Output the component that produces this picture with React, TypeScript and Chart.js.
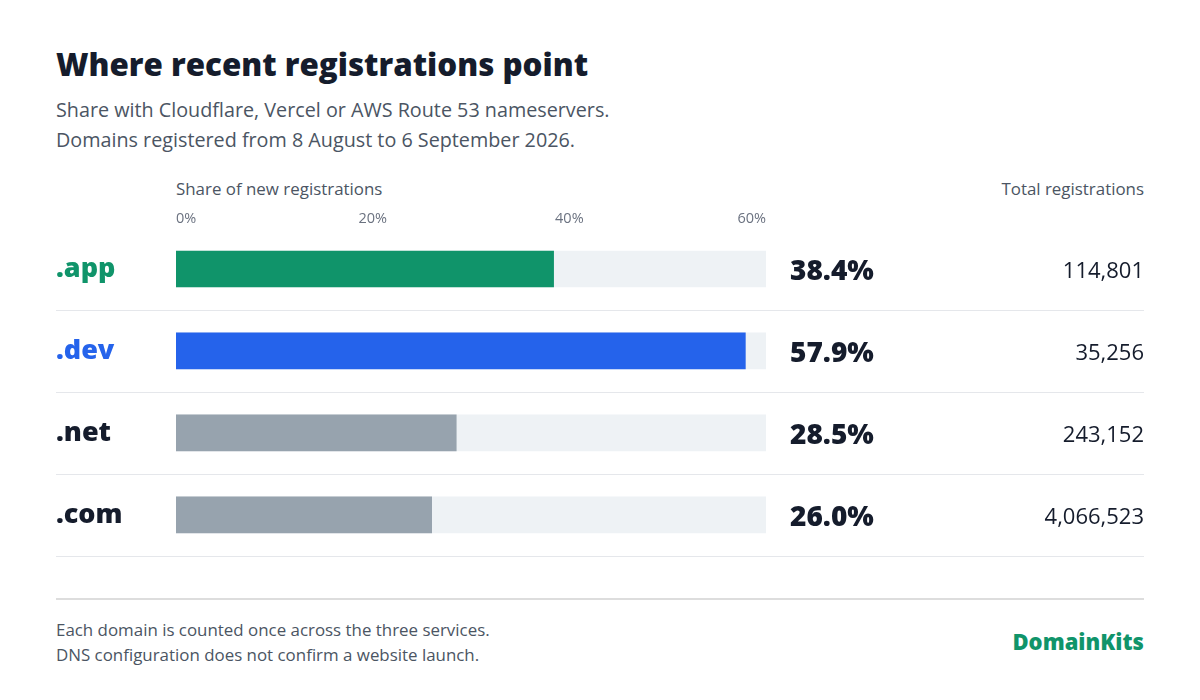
import React, { useEffect, useRef } from "react";
import { Chart, registerables } from "chart.js";

Chart.register(...registerables);

const tlds = [".app", ".dev", ".net", ".com"];
const shares = [38.4, 57.9, 28.5, 26.0];
const totals = [114801, 35256, 243152, 4066523];
const axisMax = 60;
const tickStep = 20;

const barColors = ["#10946a", "#2563eb", "#97a3ae", "#97a3ae"];
const labelColors = ["#10946a", "#2563eb", "#151c2c", "#151c2c"];
const trackColor = "#eef2f5";
const inkColor = "#151c2c";
const FONT = "'Open Sans', 'Noto Sans', sans-serif";

// separators between rows, then the share and total columns to the right
const rowExtras = {
  id: "rowExtras",
  beforeDatasetsDraw(chart: Chart) {
    const { ctx, scales, width } = chart;
    const y = scales.y;
    const half = (y.getPixelForValue(1) - y.getPixelForValue(0)) / 2;
    ctx.save();
    ctx.strokeStyle = "#e5e7eb";
    ctx.lineWidth = 1;
    for (let i = 0; i < tlds.length; i++) {
      const yy = Math.round(y.getPixelForValue(i) + half) + 0.5;
      ctx.beginPath();
      ctx.moveTo(0, yy);
      ctx.lineTo(width, yy);
      ctx.stroke();
    }
    ctx.restore();
  },
  afterDatasetsDraw(chart: Chart) {
    const { ctx, scales, chartArea, width } = chart;
    const y = scales.y;
    ctx.save();
    ctx.textBaseline = "middle";
    shares.forEach((v, i) => {
      const yy = y.getPixelForValue(i);
      ctx.fillStyle = inkColor;
      ctx.font = `800 28px ${FONT}`;
      ctx.textAlign = "left";
      ctx.fillText(`${v.toFixed(1)}%`, chartArea.right + 24, yy + 3);
      ctx.font = `400 22px ${FONT}`;
      ctx.textAlign = "right";
      ctx.fillText(totals[i].toLocaleString("en-US"), width, yy + 3);
    });
    ctx.restore();
  },
};

const RegistrationsChart: React.FC = () => {
  const canvasRef = useRef<HTMLCanvasElement>(null);
  const chartRef = useRef<Chart | null>(null);

  useEffect(() => {
    if (!canvasRef.current) return;
    if (chartRef.current) chartRef.current.destroy();

    chartRef.current = new Chart(canvasRef.current, {
      type: "bar",
      data: {
        labels: tlds,
        datasets: [
          {
            label: "Share",
            data: shares,
            backgroundColor: barColors,
            barThickness: 36,
            grouped: false,
            order: 1,
          },
          {
            label: "Track",
            data: tlds.map(() => axisMax),
            backgroundColor: trackColor,
            barThickness: 36,
            grouped: false,
            order: 2,
          },
        ],
      },
      options: {
        indexAxis: "y",
        animation: false,
        responsive: true,
        maintainAspectRatio: false,
        layout: { padding: { right: 378, bottom: 0, top: 0, left: 0 } },
        plugins: {
          legend: { display: false },
          tooltip: { enabled: false },
        },
        scales: {
          x: {
            position: "top",
            min: 0,
            max: axisMax,
            grid: { display: false, drawTicks: false },
            border: { display: false },
            ticks: {
              stepSize: tickStep,
              align: "inner",
              padding: 0,
              color: "#6b7280",
              font: { family: FONT, size: 14.5 },
              callback: (v) => `${v}%`,
            },
            afterFit: (scale) => {
              scale.height = 28;
            },
          },
          y: {
            grid: { display: false, drawTicks: false },
            border: { display: false },
            ticks: {
              crossAlign: "far",
              padding: 0,
              color: (c) => labelColors[c.index],
              font: { family: FONT, size: 27, weight: 800 },
            },
            afterFit: (scale) => {
              scale.width = 120;
            },
          },
        },
      },
      plugins: [rowExtras],
    });

    return () => {
      if (chartRef.current) {
        chartRef.current.destroy();
        chartRef.current = null;
      }
    };
  }, []);

  return (
    <div style={{ position: "absolute", left: 56, top: 200, width: 1088, height: 372 }}>
      <canvas ref={canvasRef} />
    </div>
  );
};

export default function App() {
  return (
    <div
      style={{
        position: "fixed",
        inset: 0,
        width: 1200,
        height: 700,
        background: "#ffffff",
        fontFamily: FONT,
        color: inkColor,
      }}
    >
      <div style={{ position: "absolute", left: 56, top: 42, fontSize: 31.3, fontWeight: 800, lineHeight: "44px" }}>
        Where recent registrations point
      </div>
      <div style={{ position: "absolute", left: 56, top: 95, fontSize: 19.75, lineHeight: "30px", color: "#4b5563" }}>
        Share with Cloudflare, Vercel or AWS Route 53 nameservers.
        <br />
        Domains registered from 8 August to 6 September 2026.
      </div>
      <div style={{ position: "absolute", left: 176, top: 177, fontSize: 16.9, lineHeight: "24px", color: "#4b5563" }}>
        Share of new registrations
      </div>
      <div style={{ position: "absolute", right: 56, top: 177, fontSize: 16.9, lineHeight: "24px", color: "#4b5563" }}>
        Total registrations
      </div>
      <RegistrationsChart />
      <div style={{ position: "absolute", left: 56, width: 1088, top: 598, height: 2, background: "#dddddd" }} />
      <div style={{ position: "absolute", left: 56, top: 617, fontSize: 16.9, lineHeight: "25px", color: "#4b5563" }}>
        Each domain is counted once across the three services.
        <br />
        DNS configuration does not confirm a website launch.
      </div>
      <div style={{ position: "absolute", right: 56, top: 627, fontSize: 22, fontWeight: 800, lineHeight: "28px", color: "#10946a" }}>
        DomainKits
      </div>
    </div>
  );
}
